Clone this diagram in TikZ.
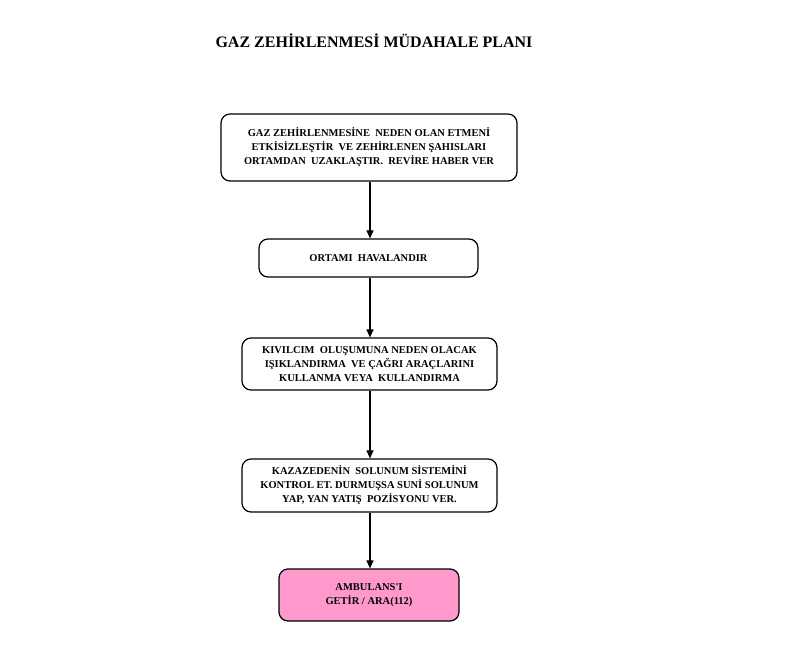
\documentclass[tikz,border=0pt]{standalone}
\usepackage{fontspec}
\setmainfont{Liberation Serif}
\usetikzlibrary{arrows.meta}
\definecolor{pinkbox}{HTML}{FF99CC}
\begin{document}
\begin{tikzpicture}[x=1pt,y=-1pt,
  stepbox/.style={draw=black,line width=1.2pt,rounded corners=9pt,align=center,
    font=\fontsize{10.5}{14}\selectfont\bfseries,inner sep=0pt},
  conn/.style={line width=1.1pt,-{Triangle[length=8pt,width=7pt]}}]
\useasboundingbox (0,0) rectangle (790,648);
\node[font=\fontsize{16}{18}\selectfont\bfseries] (title) at (374,41) {GAZ ZEHİRLENMESİ MÜDAHALE PLANI};
\node[stepbox,minimum width=296pt,minimum height=67pt] (b1) at (369,147.5)
  {GAZ ZEHİRLENMESİNE\ \ NEDEN OLAN ETMENİ\\ETKİSİZLEŞTİR\ \ VE ZEHİRLENEN ŞAHISLARI\\ORTAMDAN\ \ UZAKLAŞTIR.\ \ REVİRE HABER VER};
\node[stepbox,minimum width=219pt,minimum height=38pt] (b2) at (368.5,258)
  {ORTAMI\ \ HAVALANDIR};
\node[stepbox,minimum width=255pt,minimum height=52pt] (b3) at (369.5,364)
  {KIVILCIM\ \ OLUŞUMUNA NEDEN OLACAK\\IŞIKLANDIRMA\ \ VE ÇAĞRI ARAÇLARINI\\KULLANMA VEYA\ \ KULLANDIRMA};
\node[stepbox,minimum width=255pt,minimum height=53pt] (b4) at (369.5,485.5)
  {KAZAZEDENİN\ \ SOLUNUM SİSTEMİNİ\\KONTROL ET. DURMUŞSA SUNİ SOLUNUM\\YAP, YAN YATIŞ\ \ POZİSYONU VER.};
\node[stepbox,fill=pinkbox,minimum width=180pt,minimum height=52pt] (b5) at (369,595)
  {AMBULANS\textquotesingle I\\GETİR / ARA(112)};
\draw[conn] (b1.south -| 370,0) -- (b2.north -| 370,0);
\draw[conn] (b2.south -| 370,0) -- (b3.north -| 370,0);
\draw[conn] (b3.south -| 370,0) -- (b4.north -| 370,0);
\draw[conn] (b4.south -| 370,0) -- (b5.north -| 370,0);
\end{tikzpicture}
\end{document}
